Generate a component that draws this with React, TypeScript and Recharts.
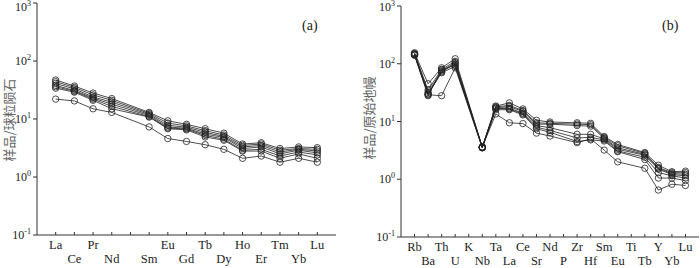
import { LineChart, Line, XAxis, YAxis } from "recharts";

// (a) chondrite-normalised REE, Pm left blank
const REE = ["La", "Ce", "Pr", "Nd", "", "Sm", "Eu", "Gd", "Tb", "Dy", "Ho", "Er", "Tm", "Yb", "Lu"];
const reeS1 = [47, 37, 28, 22.5, null, 13, 9.3, 8.1, 6.8, 5.7, 3.7, 3.9, 3.1, 3.3, 3.2];
const reeS2 = [44, 35, 26, 21, null, 12.5, 8.5, 7.6, 6.3, 5.3, 3.5, 3.7, 2.9, 3.1, 3.0];
const reeS3 = [41, 33, 24, 19.5, null, 12, 7.8, 7.2, 5.9, 5.0, 3.3, 3.5, 2.7, 3.0, 2.8];
const reeS4 = [38, 31, 23, 18, null, 11.5, 7.3, 6.9, 5.5, 4.8, 3.1, 3.3, 2.5, 2.9, 2.6];
const reeS5 = [36, 30, 22, 16.5, null, 11, 7.0, 6.7, 5.2, 4.5, 2.9, 3.0, 2.3, 2.7, 2.4];
const reeS6 = [34, 29, 21, 15, null, 10.8, 6.8, 6.5, 4.9, 4.3, 2.8, 2.8, 2.1, 2.5, 2.1];
const reeS7 = [22, 20.5, 15, 13, null, 7.3, 4.6, 4.1, 3.6, 3.0, 2.1, 2.3, 1.8, 2.1, 1.8];

// (b) primitive-mantle-normalised spider diagram, K / P / Ti blank
const SPIDER = ["Rb", "Ba", "Th", "U", "K", "Nb", "Ta", "La", "Ce", "Sr", "Nd", "P", "Zr", "Hf", "Sm", "Eu", "Ti", "Tb", "Y", "Yb", "Lu"];
const spS1 = [155, 45, 85, 122, null, 3.6, 18.5, 21, 16.5, 10.5, 9.8, null, 9.5, 9.3, 5.5, 4.0, null, 2.9, 1.75, 1.35, 1.38];
const spS2 = [150, 35, 80, 110, null, 3.6, 18, 19, 15.5, 9.5, 9.3, null, 9.0, 8.8, 5.3, 3.8, null, 2.8, 1.6, 1.3, 1.3];
const spS3 = [148, 32, 75, 105, null, 3.6, 17.5, 18, 15, 9, 9.0, null, 8.5, 8.3, 5.1, 3.5, null, 2.7, 1.55, 1.25, 1.22];
const spS4 = [145, 30, 72, 100, null, 3.6, 17, 17, 14, 8.5, 7.8, null, 6.0, 6.0, 5.0, 3.3, null, 2.6, 1.5, 1.2, 1.15];
const spS5 = [142, 28, 78, 95, null, 3.5, 17, 16.5, 13.5, 8.0, 7.0, null, 5.2, 5.3, 4.8, 3.1, null, 2.4, 1.3, 1.15, 1.05];
const spS6 = [140, 29, 28, 85, null, 3.5, 16, 16, 13, 7.5, 6.5, null, 4.5, 4.8, 4.6, 3.0, null, 2.2, 1.05, 1.05, 0.95];
const spS7 = [145, 30, 70, 90, null, 3.6, 13.5, 9.5, 9.2, 6.3, 5.6, null, 4.3, 5.0, 3.2, 2.0, null, 1.55, 0.65, 0.82, 0.78];

const Y_TICKS = [0.1, 1, 10, 100, 1000];
const SERIF = "'Liberation Serif', 'Times New Roman', serif";
const CJK = "'Noto Sans CJK SC', sans-serif";
const INK = "#222";

function buildRows(labels: string[], series: (number | null)[][]) {
  return labels.map((_, i) => {
    const row: Record<string, number | null> = { x: i };
    series.forEach((s, k) => {
      row[`s${k}`] = s[i];
    });
    return row;
  });
}

const reeRows = buildRows(REE, [reeS1, reeS2, reeS3, reeS4, reeS5, reeS6, reeS7]);
const spRows = buildRows(SPIDER, [spS1, spS2, spS3, spS4, spS5, spS6, spS7]);

function PowTick(props: any) {
  const { x, y, payload } = props;
  const exp = Math.round(Math.log10(payload.value));
  // keep the top label inside the page
  const base = Math.max(y + 4, 11);
  return (
    <text x={x} y={base} textAnchor="end" fontSize={12} fontFamily={SERIF} fill={INK}>
      10
      <tspan dy={-5} fontSize={8}>
        {exp}
      </tspan>
    </text>
  );
}

function makeXTick(labels: string[]) {
  return (props: any) => {
    const { x, y, payload } = props;
    const i = payload.value as number;
    return (
      <g>
        <line x1={x} x2={x} y1={y} y2={y - 3} stroke="#333" strokeWidth={1} />
        <text
          x={x}
          y={y + (i % 2 ? 28 : 14)}
          textAnchor="middle"
          fontSize={12.5}
          fontFamily={SERIF}
          fill={INK}
        >
          {labels[i]}
        </text>
      </g>
    );
  };
}

interface PanelProps {
  rows: Record<string, number | null>[];
  labels: string[];
  yWidth: number;
  top: number;
  right: number;
  xHeight: number;
}

function Panel({ rows, labels, yWidth, top, right, xHeight }: PanelProps) {
  const n = labels.length;
  const ticks = labels.map((_, i) => i);
  return (
    <LineChart width={350} height={268} data={rows} margin={{ top, right, bottom: 0, left: 0 }}>
      <XAxis
        dataKey="x"
        type="number"
        domain={[-1, n]}
        ticks={ticks}
        interval={0}
        height={xHeight}
        tickSize={0}
        tickMargin={0}
        tickLine={false}
        tick={makeXTick(labels)}
        axisLine={{ stroke: "#333", strokeWidth: 1 }}
      />
      <XAxis
        xAxisId="top"
        dataKey="x"
        type="number"
        orientation="top"
        domain={[-1, n]}
        height={0}
        tick={false}
        tickLine={false}
        axisLine={{ stroke: "#333", strokeWidth: 1 }}
      />
      <YAxis
        scale="log"
        domain={[0.1, 1000]}
        ticks={Y_TICKS}
        interval={0}
        allowDataOverflow
        width={yWidth}
        tickSize={4}
        tickMargin={2}
        tick={PowTick}
        tickLine={{ stroke: "#333" }}
        axisLine={{ stroke: "#333", strokeWidth: 1 }}
      />
      <YAxis
        yAxisId="right"
        orientation="right"
        scale="log"
        domain={[0.1, 1000]}
        width={0}
        tick={false}
        tickLine={false}
        axisLine={{ stroke: "#333", strokeWidth: 1 }}
      />
      {[0, 1, 2, 3, 4, 5, 6].map((k) => (
        <Line
          key={k}
          dataKey={`s${k}`}
          type="linear"
          connectNulls
          stroke={INK}
          strokeWidth={0.8}
          dot={{ r: 3.2, fill: "none", stroke: INK, strokeWidth: 0.8 }}
          activeDot={false}
          isAnimationActive={false}
        />
      ))}
    </LineChart>
  );
}

export default function App() {
  return (
    <div style={{ position: "absolute", left: 0, top: 0, width: 700, height: 268, background: "#fff" }}>
      <div style={{ position: "absolute", left: 0, top: 0 }}>
        <Panel rows={reeRows} labels={REE} yWidth={37} top={3} right={14} xHeight={33} />
      </div>
      <div style={{ position: "absolute", left: 350, top: 0 }}>
        <Panel rows={spRows} labels={SPIDER} yWidth={51} top={6} right={1} xHeight={31} />
      </div>
      <div
        style={{
          position: "absolute",
          left: 8,
          top: 120,
          transform: "translate(-50%, -50%) rotate(-90deg)",
          whiteSpace: "nowrap",
          fontFamily: CJK,
          fontSize: 13,
          color: "#666",
        }}
      >
        样品/球粒陨石
      </div>
      <div
        style={{
          position: "absolute",
          left: 368,
          top: 118,
          transform: "translate(-50%, -50%) rotate(-90deg)",
          whiteSpace: "nowrap",
          fontFamily: CJK,
          fontSize: 13,
          color: "#666",
        }}
      >
        样品/原始地幔
      </div>
      <div style={{ position: "absolute", left: 302, top: 18, fontFamily: SERIF, fontSize: 14, color: INK }}>(a)</div>
      <div style={{ position: "absolute", left: 662, top: 18, fontFamily: SERIF, fontSize: 14, color: INK }}>(b)</div>
    </div>
  );
}
